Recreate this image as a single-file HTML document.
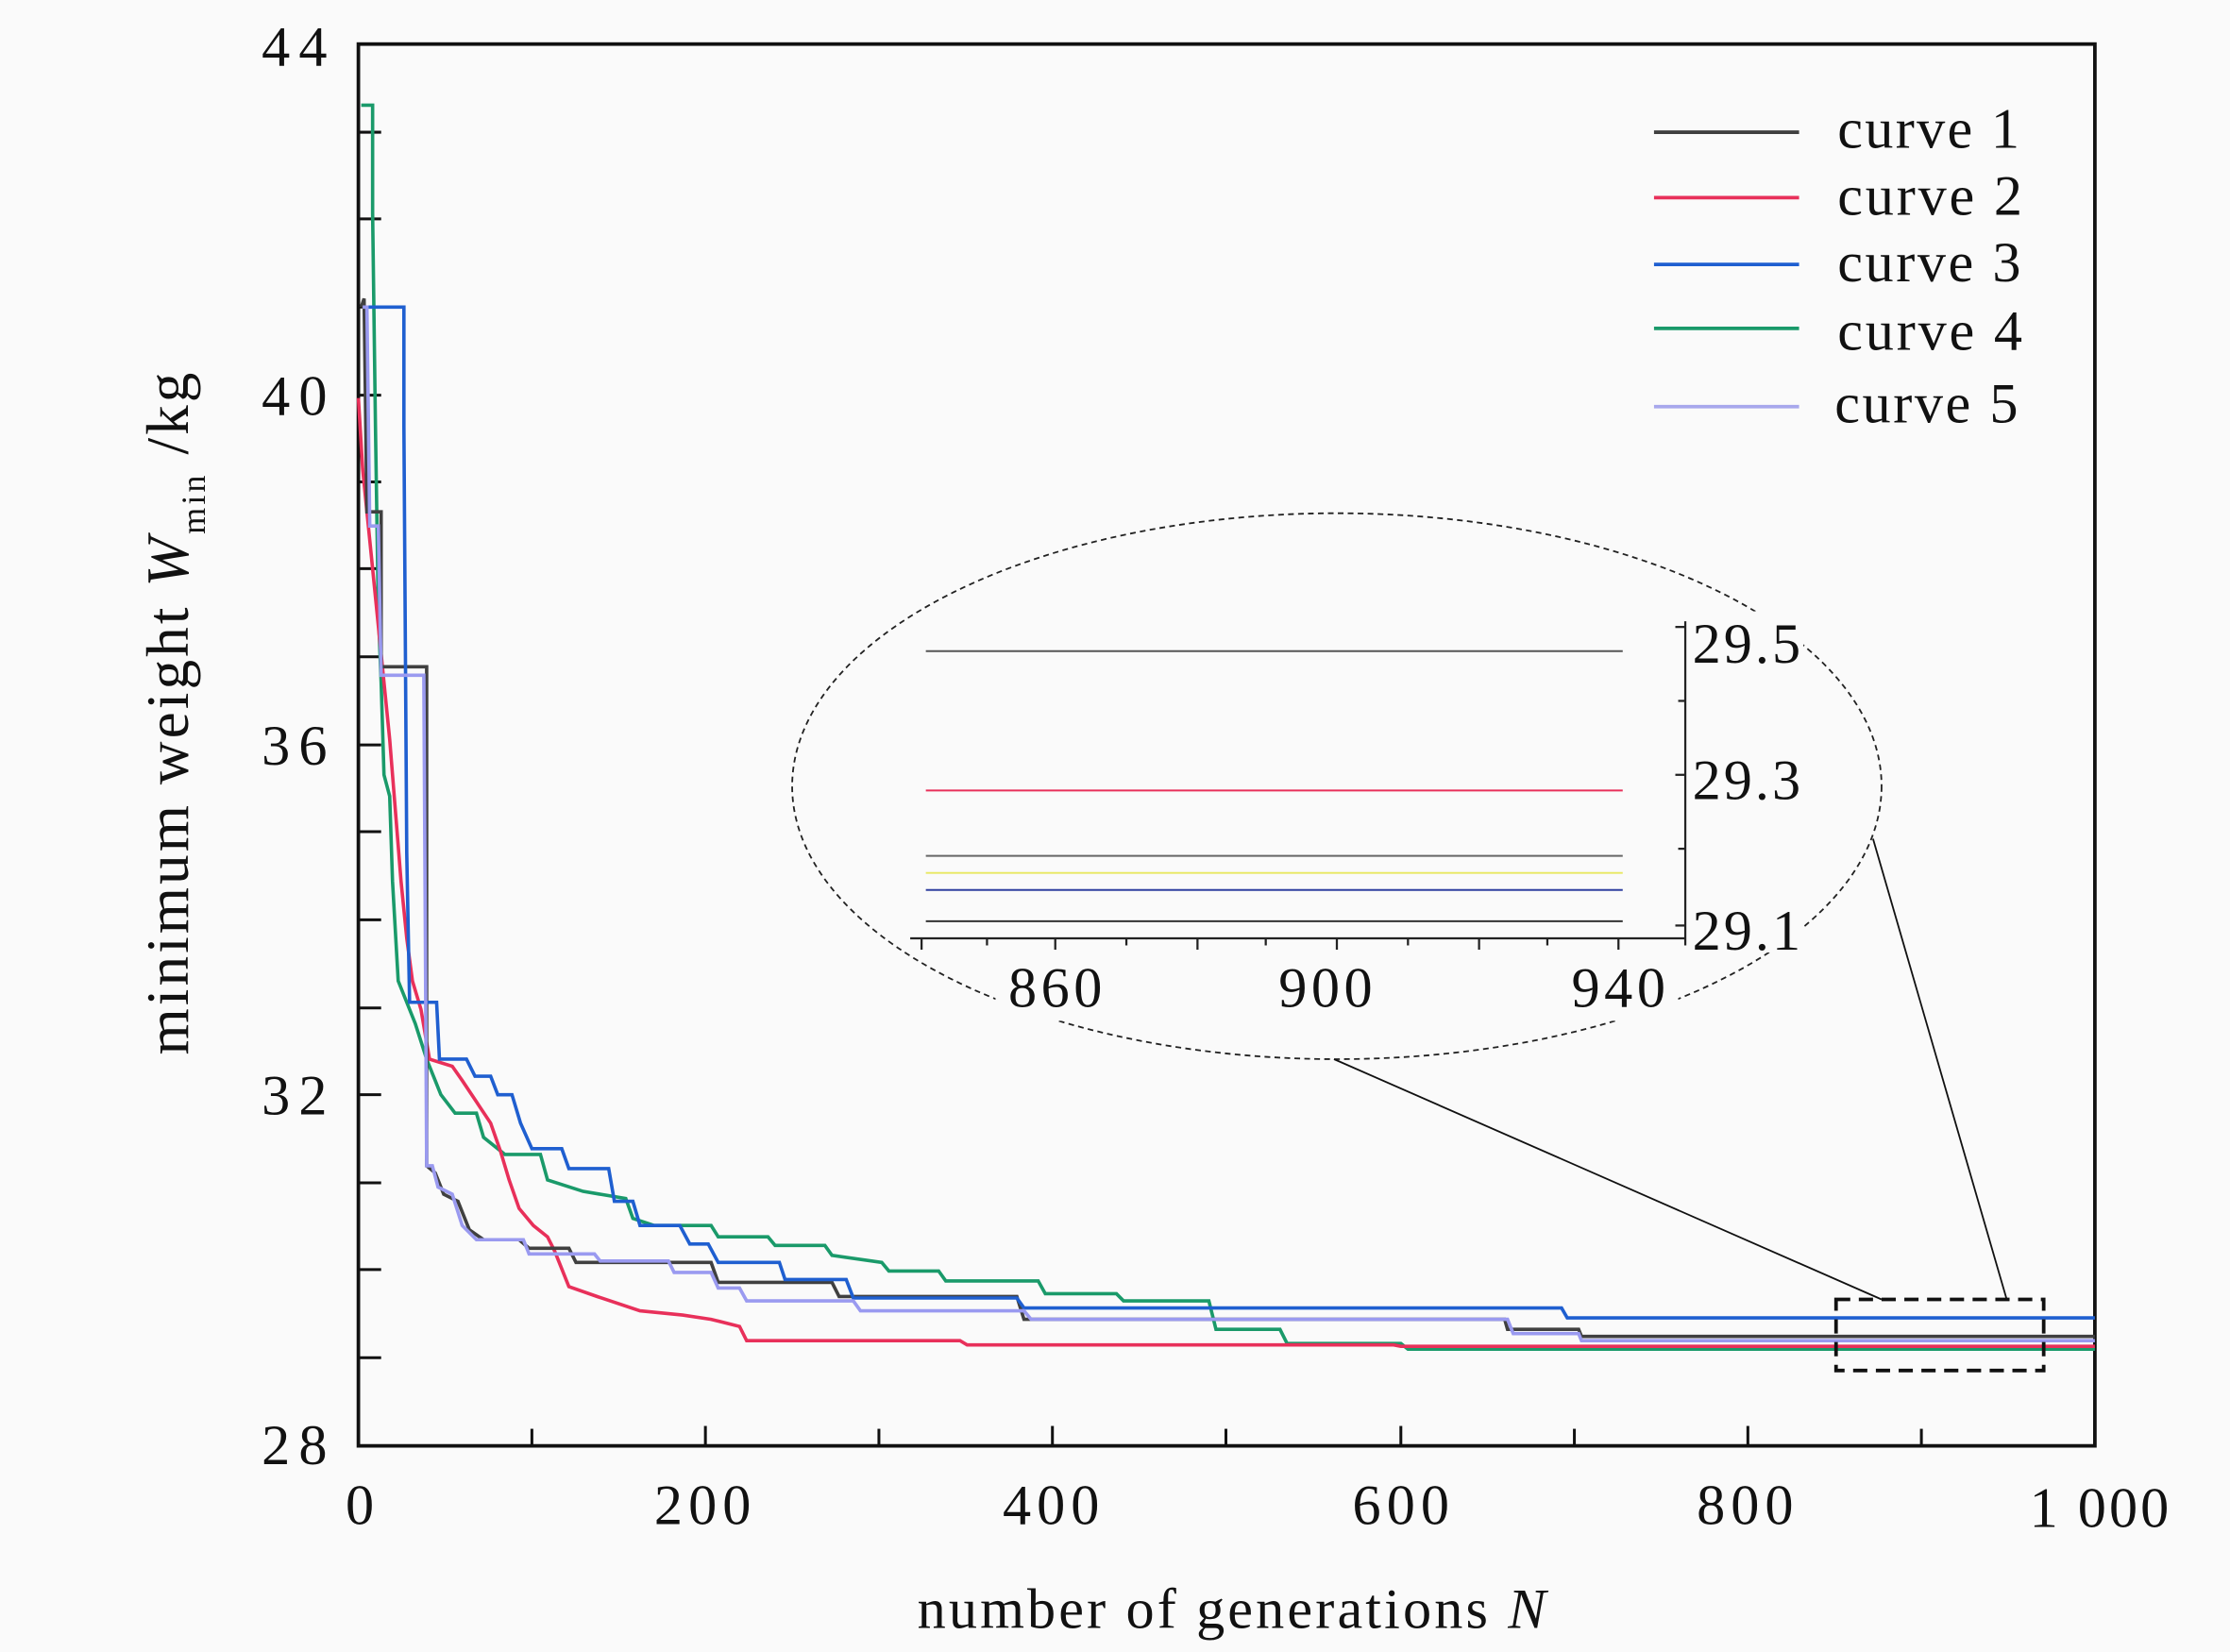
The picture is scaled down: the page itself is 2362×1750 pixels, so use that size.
<!DOCTYPE html>
<html><head><meta charset="utf-8"><style>
html,body{margin:0;padding:0;background:#fafafa;}
svg{display:block;}
text{font-family:"Liberation Serif",serif;fill:#111;}
</style></head><body>
<svg width="2362" height="1750" viewBox="0 0 1568 1162" preserveAspectRatio="none" xmlns="http://www.w3.org/2000/svg">
<rect width="1568" height="1162" fill="#fafafa"/>
<rect x="252" y="31" width="1221" height="986" fill="none" stroke="#111" stroke-width="2.5"/>
<g stroke="#111" stroke-width="2">
<line x1="252" y1="93" x2="268" y2="93"/><line x1="252" y1="154" x2="268" y2="154"/><line x1="252" y1="216" x2="268" y2="216"/>
<line x1="252" y1="278" x2="268" y2="278"/><line x1="252" y1="339" x2="268" y2="339"/><line x1="252" y1="400" x2="268" y2="400"/>
<line x1="252" y1="462" x2="268" y2="462"/><line x1="252" y1="524" x2="268" y2="524"/><line x1="252" y1="585" x2="268" y2="585"/>
<line x1="252" y1="647" x2="268" y2="647"/><line x1="252" y1="709" x2="268" y2="709"/><line x1="252" y1="770" x2="268" y2="770"/>
<line x1="252" y1="832" x2="268" y2="832"/><line x1="252" y1="893" x2="268" y2="893"/><line x1="252" y1="955" x2="268" y2="955"/>
<line x1="374" y1="1017" x2="374" y2="1005"/><line x1="496" y1="1017" x2="496" y2="1003"/><line x1="618" y1="1017" x2="618" y2="1005"/>
<line x1="740" y1="1017" x2="740" y2="1003"/><line x1="862" y1="1017" x2="862" y2="1005"/><line x1="985" y1="1017" x2="985" y2="1003"/>
<line x1="1107" y1="1017" x2="1107" y2="1005"/><line x1="1229" y1="1017" x2="1229" y2="1003"/><line x1="1351" y1="1017" x2="1351" y2="1005"/>
</g>
<g font-size="40" text-anchor="end">
<text x="230" y="46" textLength="46">44</text><text x="230" y="292" textLength="46">40</text><text x="230" y="538" textLength="46">36</text><text x="230" y="784" textLength="46">32</text><text x="230" y="1030" textLength="46">28</text>
</g>
<g font-size="40" text-anchor="middle">
<text x="253" y="1072">0</text><text x="494" y="1072" textLength="68">200</text><text x="739" y="1072" textLength="68">400</text><text x="985" y="1072" textLength="68">600</text><text x="1227" y="1072" textLength="68">800</text><text x="1476" y="1074" textLength="98">1 000</text>
</g>
<text x="645" y="1145" font-size="40" textLength="442">number of generations <tspan font-style="italic">N</tspan></text>
<text transform="translate(132,742) rotate(-90)" font-size="42" textLength="480">minimum weight <tspan font-style="italic">W</tspan><tspan font-size="24" dy="12">min</tspan><tspan dy="-12">  /kg</tspan></text>

<g fill="none" stroke-width="2.4">
<polyline stroke="#1a9a6a" points="254,74 262,74 262,150 264,300 266,430 268,480 270,545 274,560 276,620 280,690 286,705 292,720 300,745 310,770 320,783 335,783 340,800 355,812 380,812 385,830 410,838 440,843 445,857 460,862 500,862 505,870 540,870 545,876 580,876 585,883 620,888 625,894 660,894 665,901 730,901 735,910 785,910 790,915 850,915 855,935 900,935 905,945 985,945 990,949 1473,949"/>
<polyline stroke="#e8305a" points="252,280 255,330 258,360 262,400 266,440 270,480 274,520 278,570 282,620 286,660 290,690 296,710 302,745 318,750 325,760 335,775 345,790 352,810 358,830 365,850 375,862 385,870 390,880 400,905 420,912 450,922 480,925 500,928 520,933 525,943 675,943 680,946 980,946 985,947 1473,947"/>
<polyline stroke="#404040" points="254,216 256,210 258,360 268,360 268,469 300,469 300,820 306,825 312,840 322,845 330,865 340,872 365,872 372,878 400,878 405,888 500,888 505,902 585,902 590,912 715,912 720,928 1058,928 1060,935 1110,935 1112,940 1473,940"/>
<polyline stroke="#1f5fd0" points="258,216 284,216 284,300 286,600 288,705 307,705 309,745 328,745 334,757 345,757 350,770 360,770 366,790 374,808 395,808 400,822 428,822 432,845 445,845 450,862 478,862 485,875 498,875 505,888 548,888 552,900 595,900 600,913 715,913 720,920 1098,920 1102,927 1473,927"/>
<polyline stroke="#9a9af0" points="255,216 258,216 260,370 266,370 268,475 298,475 300,820 304,820 308,835 318,840 325,862 335,872 368,872 372,882 418,882 422,887 470,887 474,895 500,895 505,906 520,906 525,915 600,915 605,922 720,922 725,928 1060,928 1064,938 1110,938 1112,943 1473,943"/>
</g>

<g stroke-width="2.5">
<line x1="1163" y1="93" x2="1265" y2="93" stroke="#404040"/>
<line x1="1163" y1="139" x2="1265" y2="139" stroke="#e8305a"/>
<line x1="1163" y1="186" x2="1265" y2="186" stroke="#1f5fd0"/>
<line x1="1163" y1="231" x2="1265" y2="231" stroke="#1a9a6a"/>
<line x1="1163" y1="286" x2="1265" y2="286" stroke="#a8a8ec"/>
</g>
<g font-size="40">
<text x="1292" y="104" textLength="128">curve 1</text><text x="1292" y="151" textLength="130">curve 2</text><text x="1292" y="198" textLength="129">curve 3</text><text x="1292" y="246" textLength="130">curve 4</text><text x="1290" y="297" textLength="129">curve 5</text>
</g>

<ellipse cx="940" cy="553" rx="383" ry="192" fill="none" stroke="#222" stroke-width="1.2" stroke-dasharray="4,3"/>
<rect x="1188" y="430" width="80" height="240" fill="#fafafa"/>
<rect x="700" y="668" width="480" height="50" fill="#fafafa"/>
<g stroke="#222" stroke-width="1.5">
<line x1="640" y1="660" x2="1185" y2="660"/>
<line x1="1185" y1="437" x2="1185" y2="665"/>
<line x1="648" y1="660" x2="648" y2="668"/><line x1="742" y1="660" x2="742" y2="668"/><line x1="940" y1="660" x2="940" y2="668"/><line x1="1138" y1="660" x2="1138" y2="668"/>
<line x1="694" y1="660" x2="694" y2="665"/><line x1="792" y1="660" x2="792" y2="665"/><line x1="842" y1="660" x2="842" y2="668"/><line x1="890" y1="660" x2="890" y2="665"/><line x1="990" y1="660" x2="990" y2="665"/><line x1="1040" y1="660" x2="1040" y2="668"/><line x1="1088" y1="660" x2="1088" y2="665"/>
<line x1="1178" y1="441" x2="1185" y2="441"/><line x1="1180" y1="493" x2="1185" y2="493"/><line x1="1178" y1="545" x2="1185" y2="545"/><line x1="1180" y1="597" x2="1185" y2="597"/><line x1="1178" y1="651" x2="1185" y2="651"/>
</g>
<g stroke-width="1.3">
<line x1="651" y1="458" x2="1141" y2="458" stroke="#555"/>
<line x1="651" y1="556" x2="1141" y2="556" stroke="#e8305a"/>
<line x1="651" y1="602" x2="1141" y2="602" stroke="#666"/>
<line x1="651" y1="614" x2="1141" y2="614" stroke="#e8e860"/>
<line x1="651" y1="626" x2="1141" y2="626" stroke="#3040a0"/>
<line x1="651" y1="648" x2="1141" y2="648" stroke="#333"/>
</g>
<g font-size="40">
<text x="1190" y="466" textLength="76">29.5</text><text x="1190" y="562" textLength="76">29.3</text><text x="1190" y="668" textLength="76">29.1</text>
</g>
<g font-size="40" text-anchor="middle">
<text x="742" y="708" textLength="66">860</text><text x="932" y="708" textLength="66">900</text><text x="1138" y="708" textLength="66">940</text>
</g>
<line x1="938" y1="745" x2="1323" y2="914" stroke="#111" stroke-width="1.2"/>
<line x1="1317" y1="590" x2="1411" y2="914" stroke="#111" stroke-width="1.2"/>
<rect x="1291" y="914" width="146" height="50" fill="none" stroke="#111" stroke-width="2.5" stroke-dasharray="10,6"/>
</svg>
</body></html>
